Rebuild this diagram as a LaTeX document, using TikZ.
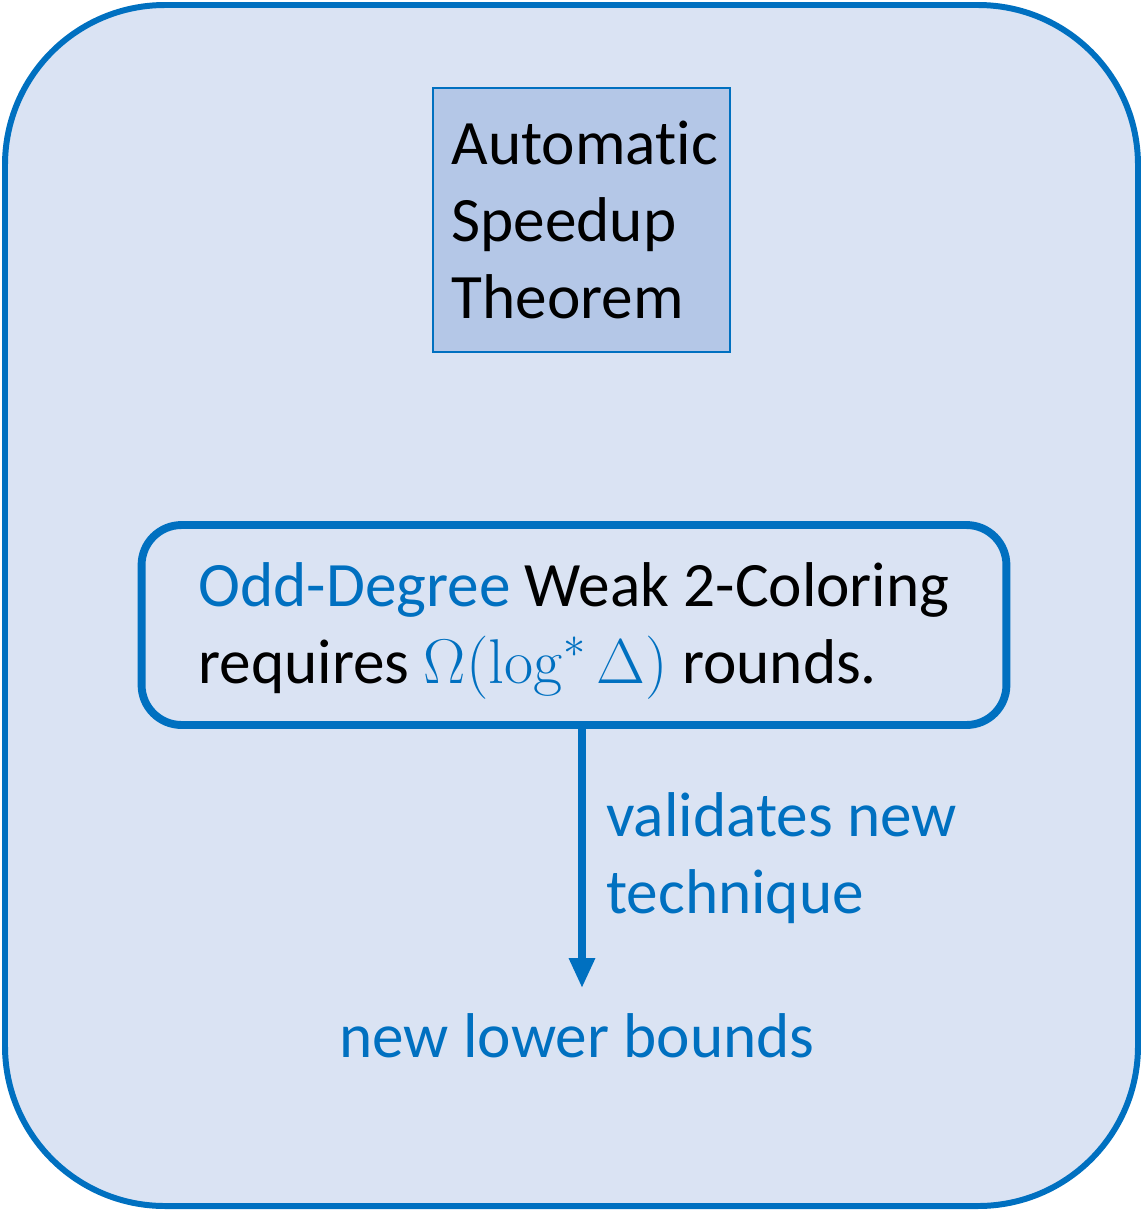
\documentclass[tikz,border=0pt]{standalone}
\usepackage{fix-cm}
\usepackage[no-math]{fontspec}
\setmainfont{Carlito}[Ligatures=NoCommon]
\usepackage{tikz}
\usetikzlibrary{arrows.meta}
\definecolor{tblue}{HTML}{0070C0}
\definecolor{paleblue}{HTML}{DAE3F3}
\definecolor{boxblue}{HTML}{B4C7E7}

\begin{document}
\begin{tikzpicture}[x=0.02cm, y=-0.02cm,
  every node/.style={font=\fontsize{36}{44}\selectfont},
  thm/.style={draw=tblue, line width=1.2pt, fill=boxblue, minimum width=5.94cm,
    minimum height=5.28cm, text width=5.2cm, align=left},
  claim/.style={draw=tblue, line width=4.5pt, rounded corners=0.8cm,
    minimum width=17.3cm, minimum height=4.0cm, align=left},
  lbl/.style={text=tblue, align=left},
  link/.style={draw=tblue, line width=4pt, -{Triangle[width=14pt,length=17pt]}}]
 \useasboundingbox (0,0) rectangle (1143,1211);
 \draw[tblue, fill=paleblue, line width=3.4pt, rounded corners=3.2cm] (5,5) rectangle (1138,1206);
 \node[thm] (thm) at (581.5,220) {Automatic\\Speedup\\Theorem};
 \node[claim] (claim) at (574,625) {\rule{0pt}{32pt}\textcolor{tblue}{Odd-Degree} Weak 2-Coloring\\requires \textcolor{tblue}{$\Omega(\log^{*}\Delta)$} rounds.};
 \coordinate (tip) at (582,988);
 \draw[link] (claim.south -| tip) -- (tip);
 \node[lbl, anchor=west] (val) at (600,858) {validates new\\technique};
 \node[lbl] (low) at (577,1036) {new lower bounds};
\end{tikzpicture}
\end{document}
